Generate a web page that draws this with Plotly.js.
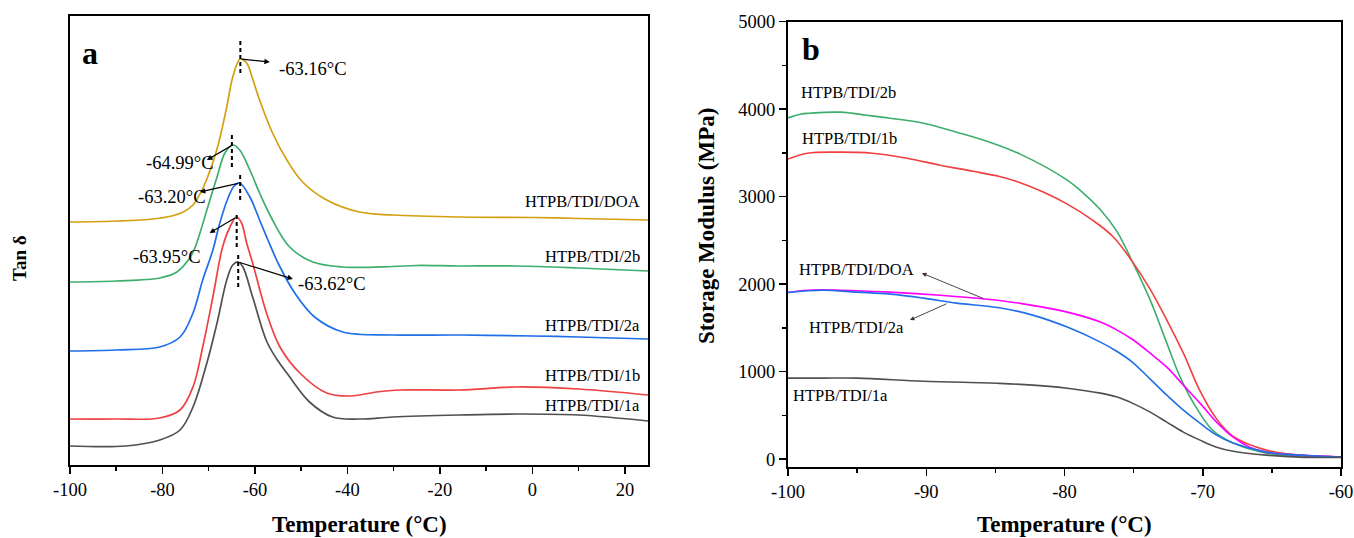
<!DOCTYPE html>
<html>
<head>
<meta charset="utf-8">
<script src="https://cdn.plot.ly/plotly-3.0.1.min.js"></script>
<style>html,body{margin:0;padding:0;background:#fff;}#chart{width:1354px;height:538px;}</style>
</head>
<body>
<div id="chart"></div>
<script>
// ---------- Panel a: Tan delta (offset curves, arbitrary units) ----------
const tanLabels = ["HTPB/TDI/DOA", "HTPB/TDI/2b", "HTPB/TDI/2a", "HTPB/TDI/1b", "HTPB/TDI/1a"];
const tanColors = ["#D4A010", "#3DAE6E", "#1F6FE8", "#F04040", "#505050"];
const peakTemps = [-63.16, -64.99, -63.20, -63.95, -63.62];
const peakLabels = ["-63.16°C", "-64.99°C", "-63.20°C", "-63.95°C", "-63.62°C"];
const tanTickVals = [-100, -80, -60, -40, -20, 0, 20];
const tanTickText = ["-100", "-80", "-60", "-40", "-20", "0", "20"];

const tanT_DOA = [-100,-90,-82,-78,-75.5,-73.4,-72,-70.4,-68.2,-66.1,-64.8,-63.2,-61.8,-60.5,-59,-56.2,-53.1,-49.7,-44.5,-37.4,-30.2,-15.8,0,10,25];
const tanV_DOA = [2.43,2.44,2.46,2.49,2.53,2.60,2.70,2.86,3.16,3.58,3.88,4.06,4.02,3.86,3.65,3.32,3.05,2.83,2.65,2.53,2.50,2.48,2.475,2.465,2.45];

const tanT_2b = [-100,-90,-80.6,-76.9,-74.1,-73,-71.9,-70.4,-68.2,-66.5,-64.8,-63.3,-61.1,-59,-56.2,-52.5,-47.5,-41,-30.2,-25,-15.8,-3.5,10,25];
const tanV_2b = [1.83,1.84,1.87,1.93,2.07,2.17,2.32,2.55,2.88,3.12,3.20,3.15,2.95,2.72,2.45,2.18,2.03,1.98,1.985,1.995,1.99,1.99,1.97,1.94];

const tanT_2a = [-100,-90,-80.6,-76.2,-73.4,-71.3,-69.1,-67.6,-65.9,-64.5,-63.3,-61.1,-59,-57.2,-54.8,-51.4,-47.1,-41,-30.2,-15.8,0,10,25];
const tanV_2a = [1.14,1.15,1.18,1.28,1.52,1.85,2.15,2.42,2.66,2.79,2.82,2.68,2.45,2.25,2.00,1.72,1.48,1.33,1.30,1.30,1.29,1.28,1.26];

const tanT_1b = [-100,-90,-80.6,-76.2,-73.4,-71.3,-69.1,-67,-65.4,-64,-62.9,-61.8,-60.5,-57.5,-54.6,-50.3,-44.5,-39.5,-33.7,-28.7,-15.8,-3.5,10,25];
const tanV_1b = [0.46,0.46,0.47,0.55,0.78,1.18,1.68,2.18,2.38,2.48,2.42,2.22,2.02,1.52,1.18,0.92,0.72,0.69,0.73,0.75,0.75,0.78,0.76,0.70];

const tanT_1a = [-100,-88,-80.6,-76.2,-73.4,-70.4,-68.2,-66.1,-64.8,-63.6,-62.6,-60.5,-57.5,-55.3,-53.1,-48.2,-43.2,-37.4,-30.2,-15.8,-3.5,10,25];
const tanV_1a = [0.19,0.19,0.25,0.35,0.58,1.02,1.42,1.85,2.00,2.03,1.98,1.68,1.24,1.06,0.92,0.63,0.48,0.46,0.48,0.50,0.51,0.50,0.44];

// ---------- Panel b: Storage modulus (MPa) ----------
const smLabels = ["HTPB/TDI/2b", "HTPB/TDI/1b", "HTPB/TDI/DOA", "HTPB/TDI/2a", "HTPB/TDI/1a"];
const smColors = ["#3DAE6E", "#F04040", "#FF00FF", "#1F6FE8", "#505050"];
const smTickVals = [-100, -90, -80, -70, -60];
const smTickText = ["-100", "-90", "-80", "-70", "-60"];

const smT_2b = [-100,-99.1,-98.4,-96.2,-94.3,-92.6,-90.2,-87.8,-85.4,-83.2,-79.8,-78.7,-77.4,-76.2,-75.1,-73.8,-72.6,-71.7,-70.7,-69.3,-67.8,-65.4,-63,-60];
const smM_2b = [3900,3943,3954,3966,3931,3897,3840,3737,3623,3486,3189,3050,2850,2600,2260,1817,1326,960,650,331,183,69,35,23];

const smT_1b = [-100,-98.6,-96.2,-93.9,-91.4,-89,-86.6,-84.7,-83.2,-81.5,-79.8,-78,-76.5,-75.1,-73.8,-72.6,-71.4,-70.2,-69,-67.8,-65.4,-63,-60];
const smM_1b = [3430,3497,3509,3497,3440,3360,3290,3230,3160,3050,2915,2735,2545,2260,1940,1590,1211,780,460,260,103,46,23];

const smT_DOA = [-100,-98.6,-96.2,-92.6,-89,-85.4,-83.2,-79.8,-77.4,-76.2,-75.1,-73.8,-72.6,-71.4,-70.2,-69,-67.8,-66.6,-65.4,-63,-60];
const smM_DOA = [1905,1931,1931,1909,1874,1825,1780,1680,1566,1475,1370,1211,1051,846,640,423,251,137,80,46,25];

const smT_2a = [-100,-97.5,-95,-92.6,-90.2,-87.8,-84.7,-82.3,-79.8,-77.4,-76.2,-75.1,-73.8,-72.6,-71.4,-70.2,-69,-67.8,-65.4,-63,-60];
const smM_2a = [1905,1931,1909,1886,1840,1783,1730,1646,1509,1337,1230,1110,915,731,560,411,274,183,80,46,23];

const smT_1a = [-100,-97.5,-95,-90.2,-84.7,-82.3,-79.8,-77.4,-76.2,-75.1,-73.8,-72.6,-71.4,-70.2,-69,-67.8,-65.4,-63,-60];
const smM_1a = [926,926,926,891,866,846,811,754,709,640,537,423,309,217,137,91,46,23,20];

const FONT = "Liberation Serif, Times New Roman, serif";

const tanSeries = [[tanT_DOA,tanV_DOA],[tanT_2b,tanV_2b],[tanT_2a,tanV_2a],[tanT_1b,tanV_1b],[tanT_1a,tanV_1a]];
const smSeries = [[smT_2b,smM_2b],[smT_1b,smM_1b],[smT_DOA,smM_DOA],[smT_2a,smM_2a],[smT_1a,smM_1a]];

const traces = [];
tanSeries.forEach((s, i) => traces.push({
  x: s[0], y: s[1], type: "scatter", mode: "lines", name: tanLabels[i],
  line: {color: tanColors[i], width: 1.7, shape: "spline", smoothing: 1.0},
  xaxis: "x", yaxis: "y", hoverinfo: "skip"
}));
smSeries.forEach((s, i) => traces.push({
  x: s[0], y: s[1], type: "scatter", mode: "lines", name: smLabels[i],
  line: {color: smColors[i], width: 1.6, shape: "spline", smoothing: 1.0},
  xaxis: "x2", yaxis: "y2", hoverinfo: "skip"
}));

function peakOf(s) {
  let k = 0;
  for (let j = 1; j < s[1].length; j++) if (s[1][j] > s[1][k]) k = j;
  return [s[0][k], s[1][k]];
}

// Layout helpers (positions)
const dashSpans = [[3.92, 4.25], [2.98, 3.32], [2.65, 2.93], [2.18, 2.53], [1.78, 2.12]];
const arrowHeads = [[-56.8, 4.03], [-70.4, 3.05], [-71.9, 2.73], [-69.8, 2.32], [-51.8, 1.86]];
const peakTextPos = [[-47.5, 3.96], [-76.2, 3.02], [-78.0, 2.68], [-79.05, 2.08], [-43.4, 1.81]];
const tanLabelY = [2.64, 2.09, 1.40, 0.90, 0.60];
const smLabelPos = [[-95.66, 4194], [-95.52, 3669], [-95.08, 2171], [-95.08, 1509], [-96.17, 731]];

const shapes = peakTemps.map((t, i) => ({
  type: "line", xref: "x", yref: "y", x0: t, x1: t, y0: dashSpans[i][0], y1: dashSpans[i][1],
  line: {color: "black", width: 2, dash: "4px,3px"}
}));

const annotations = [];
peakLabels.forEach((txt, i) => {
  const pk = peakOf(tanSeries[i]);
  annotations.push({xref: "x", yref: "y", axref: "x", ayref: "y",
    x: arrowHeads[i][0], y: arrowHeads[i][1], ax: pk[0], ay: pk[1],
    text: "", showarrow: true, arrowhead: 2, arrowsize: 0.9, arrowwidth: 1.2, arrowcolor: "black",
    standoff: 0, startstandoff: 0});
  annotations.push({xref: "x", yref: "y", x: peakTextPos[i][0], y: peakTextPos[i][1],
    text: txt, showarrow: false, xanchor: "center", yanchor: "middle",
    font: {family: FONT, size: 18.5, color: "black"}});
});
tanLabels.forEach((txt, i) => annotations.push({xref: "x", yref: "y", x: 23.7, y: tanLabelY[i],
  text: txt, showarrow: false, xanchor: "right", yanchor: "middle",
  font: {family: FONT, size: 16.5, color: "black"}}));
smLabels.forEach((txt, i) => annotations.push({xref: "x2", yref: "y2", x: smLabelPos[i][0], y: smLabelPos[i][1],
  text: txt, showarrow: false, xanchor: "center", yanchor: "middle",
  font: {family: FONT, size: 16.5, color: "black"}}));
// arrows in panel b
annotations.push({xref: "x2", yref: "y2", axref: "x2", ayref: "y2", x: -90.31, y: 2126, ax: -85.76, ay: 1829,
  text: "", showarrow: true, arrowhead: 2, arrowsize: 1, arrowwidth: 0.9, arrowcolor: "#333", standoff: 0, startstandoff: 0});
annotations.push({xref: "x2", yref: "y2", axref: "x2", ayref: "y2", x: -91.18, y: 1589, ax: -88.43, ay: 1783,
  text: "", showarrow: true, arrowhead: 2, arrowsize: 1, arrowwidth: 0.9, arrowcolor: "#333", standoff: 0, startstandoff: 0});
// panel letters
annotations.push({xref: "x", yref: "y", x: -95.7, y: 4.12, text: "<b>a</b>", showarrow: false,
  font: {family: FONT, size: 32, color: "black"}});
annotations.push({xref: "x2", yref: "y2", x: -98.34, y: 4686, text: "<b>b</b>", showarrow: false,
  font: {family: FONT, size: 32, color: "black"}});
// axis titles
annotations.push({xref: "paper", yref: "paper", x: 359/1354, y: (538-524)/538, text: "<b>Temperature (°C)</b>",
  showarrow: false, xanchor: "center", yanchor: "middle", font: {family: FONT, size: 23, color: "black"}});
annotations.push({xref: "paper", yref: "paper", x: 1064.5/1354, y: (538-524)/538, text: "<b>Temperature (°C)</b>",
  showarrow: false, xanchor: "center", yanchor: "middle", font: {family: FONT, size: 23, color: "black"}});
annotations.push({xref: "paper", yref: "paper", x: 19/1354, y: (538-258)/538, text: "<b>Tan δ</b>", textangle: -90,
  showarrow: false, xanchor: "center", yanchor: "middle", font: {family: FONT, size: 19, color: "black"}});
annotations.push({xref: "paper", yref: "paper", x: 706/1354, y: (538-226)/538, text: "<b>Storage Modulus (MPa)</b>", textangle: -90,
  showarrow: false, xanchor: "center", yanchor: "middle", font: {family: FONT, size: 23, color: "black"}});

const tickFont = {family: FONT, size: 18.5, color: "black"};
const baseAxis = {showgrid: false, zeroline: false, showline: true, linecolor: "black", linewidth: 2, mirror: true,
  ticklabeloverflow: "allow"};

const layout = {
  width: 1354, height: 538, margin: {l: 0, r: 0, t: 0, b: 0},
  paper_bgcolor: "white", plot_bgcolor: "white", showlegend: false,
  xaxis: Object.assign({}, baseAxis, {domain: [70/1354, 648/1354], range: [-100, 25],
    tickmode: "array", tickvals: tanTickVals, ticktext: tanTickText,
    ticks: "outside", ticklen: 7, tickwidth: 1.5, tickcolor: "black", tickfont: tickFont,
    minor: {dtick: 10, tick0: -100, ticks: "outside", ticklen: 4, tickwidth: 1.5, tickcolor: "black"}}),
  yaxis: Object.assign({}, baseAxis, {domain: [(538-465)/538, (538-16)/538], range: [0, 4.49],
    ticks: "", showticklabels: false}),
  xaxis2: Object.assign({}, baseAxis, {domain: [788/1354, 1341/1354], range: [-100, -60],
    tickmode: "array", tickvals: smTickVals, ticktext: smTickText,
    anchor: "y2", ticks: "outside", ticklen: 7, tickwidth: 1.5, tickcolor: "black", tickfont: tickFont,
    minor: {dtick: 5, tick0: -100, ticks: "outside", ticklen: 4, tickwidth: 1.5, tickcolor: "black"}}),
  yaxis2: Object.assign({}, baseAxis, {domain: [(538-467)/538, (538-21.7)/538], range: [-90, 5000], tick0: 0, dtick: 1000,
    anchor: "x2", ticks: "outside", ticklen: 7, tickwidth: 1.5, tickcolor: "black", tickfont: tickFont,
    minor: {dtick: 500, tick0: 0, ticks: "outside", ticklen: 4, tickwidth: 1.5, tickcolor: "black"}}),
  shapes: shapes,
  annotations: annotations
};

Plotly.newPlot("chart", traces, layout, {staticPlot: true, displayModeBar: false});
</script>
</body>
</html>
